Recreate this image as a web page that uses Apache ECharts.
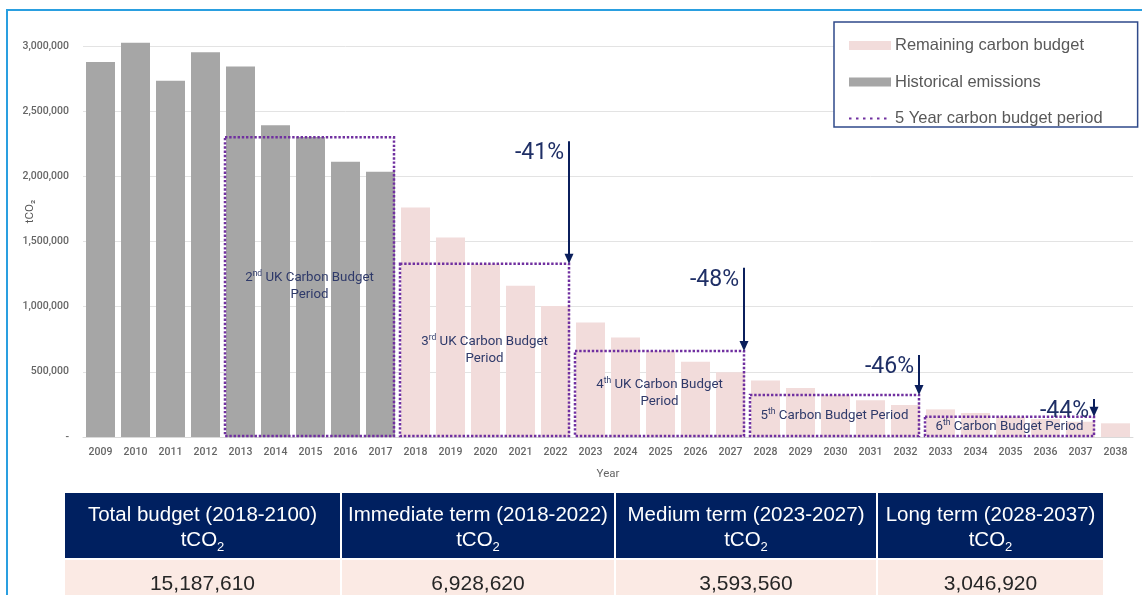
<!DOCTYPE html>
<html>
<head>
<meta charset="utf-8">
<script src="https://cdn.jsdelivr.net/npm/echarts@6/dist/echarts.min.js"></script>
<style>
  html, body { margin: 0; width: 1142px; height: 595px; overflow: hidden; background: #fff; }
  #frame { position: absolute; left: 6px; top: 9px; width: 1300px; height: 800px;
           border-left: 2px solid #2a9fe0; border-top: 2px solid #2a9fe0; }
  #chart { position: absolute; left: 0; top: 0; width: 1142px; height: 595px; }
  #budget { position: absolute; left: 63px; top: 493px; width: 1040px; border-collapse: collapse;
            table-layout: fixed; font-family: 'Liberation Sans', Arial, sans-serif; }
  #budget th { background: #002060; color: #fff; font-weight: normal; font-size: 20.5px; height: 65px; padding: 0;
               line-height: 25px; border-left: 2px solid #fff; border-right: 2px solid #fff; border-bottom: 2px solid #fff; }
  #budget td { background: #fbeae4; color: #262626; font-size: 21px; height: 46px; padding: 0; text-align: center;
               border-left: 2px solid #fff; border-right: 2px solid #fff; }
  #budget sub { font-size: 13px; line-height: 0; }
</style>
</head>
<body>
<div id="frame"></div>
<div id="chart"></div>
<table id="budget">
  <colgroup><col style="width:277px"><col style="width:274px"><col style="width:262px"><col style="width:227px"></colgroup>
  <thead><tr id="head"></tr></thead>
  <tbody><tr id="vals"></tr></tbody>
</table>
<script>
// 年份 / 数据
var years = ['2009', '2010', '2011', '2012', '2013', '2014', '2015', '2016', '2017', '2018',
  '2019', '2020', '2021', '2022', '2023', '2024', '2025', '2026', '2027', '2028',
  '2029', '2030', '2031', '2032', '2033', '2034', '2035', '2036', '2037', '2038']
var historical = [2878000, 3024000, 2734000, 2952000, 2842000, 2391000, 2302000, 2112000, 2035000]
var remaining = [1761000, 1531000, 1330000, 1160000, 1006000, 878000, 763000, 660000, 578000, 497000,
  433000, 376000, 323000, 282000, 246000, 212000, 184000, 155000, 138000, 117000, 105000]
var yTicks = [0, 500000, 1000000, 1500000, 2000000, 2500000, 3000000]

// 碳预算周期
var periodStart = ['2013', '2018', '2023', '2028', '2033']
var periodEnd = ['2017', '2022', '2027', '2032', '2037']
var periodLevel = [2300000, 1329000, 660000, 323000, 155000]
var periodName = [
  '{t|2}{s|nd}{t| UK Carbon Budget}\n{t|Period}',
  '{t|3}{s|rd}{t| UK Carbon Budget}\n{t|Period}',
  '{t|4}{s|th}{t| UK Carbon Budget}\n{t|Period}',
  '{t|5}{s|th}{t| Carbon Budget Period}',
  '{t|6}{s|th}{t| Carbon Budget Period}'
]
var reduction = ['', '-41%', '-48%', '-46%', '-44%']

// 表格
var tableHead = ['Total budget (2018-2100)', 'Immediate term (2018-2022)', 'Medium term (2023-2027)', 'Long term (2028-2037)']
var tableVals = ['15,187,610', '6,928,620', '3,593,560', '3,046,920']

document.getElementById('head').innerHTML = tableHead.map(function (h) {
  return '<th>' + h + '<br>tCO<sub>2</sub></th>'
}).join('')
document.getElementById('vals').innerHTML = tableVals.map(function (v) {
  return '<td>' + v + '</td>'
}).join('')

var nHist = historical.length
var histData = years.map(function (y, i) { return i < nHist ? historical[i] : null })
var remData = years.map(function (y, i) { return i < nHist ? null : remaining[i - nHist] })
var periodData = periodStart.map(function (s, i) {
  return [years.indexOf(s), years.indexOf(periodEnd[i]), periodLevel[i], i ? periodLevel[i - 1] : periodLevel[i]]
})

var NAVY = '#0b1f5c'
var PURPLE = '#7030a0'

function renderPeriod(params, api) {
  var i = params.dataIndex
  var band = api.size([1, 0])[0]
  var a = api.coord([api.value(0), api.value(2)])
  var b = api.coord([api.value(1), 0])
  var x0 = a[0] - band / 2 + 2
  var x1 = b[0] + band / 2 - 4
  var y0 = a[1]
  var y1 = b[1] - 1
  var kids = [
    {
      type: 'rect',
      shape: { x: x0, y: y0, width: x1 - x0, height: y1 - y0 },
      style: { fill: 'none', stroke: PURPLE, lineWidth: 2.5, lineDash: [2.4, 1.8] }
    },
    {
      type: 'text',
      x: (x0 + x1) / 2,
      y: (y0 + y1) / 2,
      style: {
        text: periodName[i], align: 'center', verticalAlign: 'middle',
        rich: {
          t: { fontSize: 13.3, fontFamily: 'Roboto', fill: '#2f3a6a', lineHeight: 17 },
          s: { fontSize: 8.5, fontFamily: 'Roboto', fill: '#2f3a6a', lineHeight: 10, verticalAlign: 'top' }
        }
      }
    }
  ]
  if (i > 0) {
    var top = api.coord([api.value(1), api.value(3)])[1] + 4
    kids.push({ type: 'line', shape: { x1: x1, y1: top, x2: x1, y2: y0 - 8 }, style: { stroke: NAVY, lineWidth: 2 } })
    kids.push({ type: 'polygon', shape: { points: [[x1 - 4.5, y0 - 10], [x1 + 4.5, y0 - 10], [x1, y0]] }, style: { fill: NAVY } })
    kids.push({
      type: 'text', x: x1 - 5, y: top + 1,
      style: { text: reduction[i], align: 'right', verticalAlign: 'top', fill: '#1f2f66', fontSize: 23, fontFamily: 'Roboto' }
    })
  }
  return { type: 'group', children: kids }
}

var chart = echarts.init(document.getElementById('chart'))
chart.setOption({
  animation: false,
  textStyle: { fontFamily: 'Roboto' },
  grid: { left: 83, right: 9, top: 46, bottom: 158, outerBoundsMode: 'none', containLabel: false },
  legend: {
    orient: 'vertical',
    left: 834,
    top: 22,
    padding: [15, 35, 0, 14],
    itemGap: 19.5,
    itemWidth: 42,
    itemHeight: 9,
    borderColor: '#2f4a8a',
    borderWidth: 1.5,
    backgroundColor: '#fff',
    textStyle: { fontFamily: "'Liberation Sans', Arial", fontSize: 16.5, color: '#595959', padding: [0, 0, 0, -1] },
    data: [
      { name: 'Remaining carbon budget', icon: 'rect' },
      { name: 'Historical emissions', icon: 'rect' },
      { name: '5 Year carbon budget period', itemStyle: { opacity: 0 } }
    ]
  },
  xAxis: {
    type: 'category',
    data: years,
    name: 'Year',
    nameLocation: 'middle',
    nameGap: 31,
    nameTextStyle: { fontSize: 11.5, color: '#666' },
    axisLine: { lineStyle: { color: '#d9d9d9' } },
    axisTick: { length: 5, lineStyle: { color: '#d9d9d9' } },
    axisLabel: { fontSize: 10.5, color: '#666', fontWeight: 500, margin: 10 }
  },
  yAxis: {
    type: 'value',
    min: yTicks[0],
    max: yTicks[yTicks.length - 1],
    interval: yTicks[1] - yTicks[0],
    name: 'tCO₂',
    nameLocation: 'middle',
    nameGap: 47,
    nameMoveOverlap: false,
    nameTextStyle: { fontSize: 11.5, color: '#595959', padding: [0, 0, 0, 60] },
    axisLine: { show: false },
    axisTick: { show: false },
    splitLine: { lineStyle: { color: '#e3e3e3' } },
    axisLabel: {
      fontSize: 10.5, color: '#666', fontWeight: 500, margin: 14,
      formatter: function (v) { return v === 0 ? '-' : v.toLocaleString('en-US') }
    }
  },
  series: [
    {
      name: 'Historical emissions',
      type: 'bar',
      data: histData,
      barWidth: 29,
      barGap: '-100%',
      clip: false,
      itemStyle: { color: '#a6a6a6' }
    },
    {
      name: 'Remaining carbon budget',
      type: 'bar',
      data: remData,
      barWidth: 29,
      barGap: '-100%',
      clip: false,
      itemStyle: { color: '#f2dcdb' }
    },
    {
      name: '5 Year carbon budget period',
      type: 'line',
      data: [],
      symbol: 'none',
      itemStyle: { color: PURPLE },
      lineStyle: { color: PURPLE, type: [2.5, 4.5], width: 3 }
    },
    {
      name: 'periods',
      type: 'custom',
      renderItem: renderPeriod,
      data: periodData,
      encode: { x: [0, 1], y: [2, 3] },
      z: 5
    }
  ]
})
</script>
</body>
</html>
